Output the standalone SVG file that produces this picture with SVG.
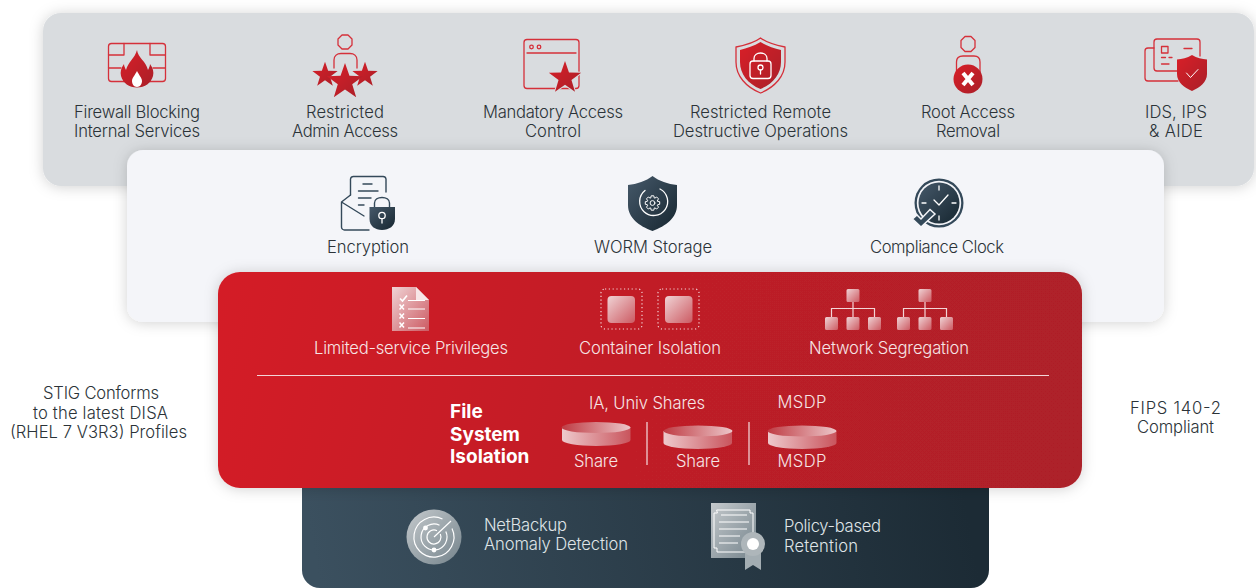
<svg xmlns="http://www.w3.org/2000/svg" xmlns:xlink="http://www.w3.org/1999/xlink" width="1256" height="588" viewBox="0 0 1256 588">
<style>
text{font-family:Inter,"Liberation Sans",sans-serif;font-weight:300;font-size:16.6px;text-anchor:middle;fill:#2b3338}
.w{fill:#f6e4e5}
.d{fill:#dfe4e7;text-anchor:start}
.b{font-weight:700;fill:#fff;text-anchor:start;font-size:19px}
.ol{fill:none;stroke:#d5303a;stroke-width:1.3;stroke-linejoin:round;stroke-linecap:round}
.dl{fill:none;stroke:#34495a;stroke-width:1.4;stroke-linejoin:round;stroke-linecap:round}
.wl{fill:none;stroke:#fff;stroke-width:1.3;stroke-linecap:round;stroke-linejoin:round}
.rf{fill:url(#red)}
.df{fill:url(#dark)}
.pk{fill:url(#pink)}
</style>
<defs>
<linearGradient id="red" x1="0" y1="0" x2="1" y2="1"><stop offset="0" stop-color="#d91f28"/><stop offset="1" stop-color="#a91f28"/></linearGradient>
<linearGradient id="redpanel" gradientUnits="userSpaceOnUse" x1="218" y1="272" x2="1082" y2="488"><stop offset="0" stop-color="#d41e27"/><stop offset="1" stop-color="#ac2029"/></linearGradient>
<linearGradient id="dark" x1="0" y1="0" x2="1" y2="1"><stop offset="0" stop-color="#46596a"/><stop offset="1" stop-color="#162630"/></linearGradient>
<linearGradient id="darkpanel" gradientUnits="userSpaceOnUse" x1="320" y1="588" x2="960" y2="470"><stop offset="0" stop-color="#3b505f"/><stop offset="1" stop-color="#1c2b35"/></linearGradient>
<linearGradient id="pink" x1="0" y1="0" x2="1" y2="1"><stop offset="0" stop-color="#f0d3d5"/><stop offset="1" stop-color="#cc5a62"/></linearGradient>
<linearGradient id="disc" x1="0" y1="0" x2="1" y2="0"><stop offset="0" stop-color="#eec9cc"/><stop offset="1" stop-color="#c9555d"/></linearGradient>
<linearGradient id="disctop" x1="0" y1="0" x2="1" y2="0"><stop offset="0" stop-color="#bf3b43"/><stop offset="1" stop-color="#ecc6c9"/></linearGradient>
<linearGradient id="grey" x1="0" y1="0" x2="1" y2="1"><stop offset="0" stop-color="#c4c9cc"/><stop offset="1" stop-color="#75848c"/></linearGradient>
<filter id="sh" x="-10%" y="-20%" width="120%" height="140%"><feDropShadow dx="0" dy="1" stdDeviation="7" flood-color="#000" flood-opacity="0.18"/></filter>
<path id="star" d="M0-1 .235-.324 .951-.309 .38.124 .588.809 0 .4 -.588.809 -.38.124 -.951-.309 -.235-.324Z"/>
<path id="sq" d="M1.500 0H11.500A1.500 1.500 0 0 1 13 1.500V11.500A1.500 1.500 0 0 1 11.500 13H1.500A1.500 1.500 0 0 1 0 11.500V1.500A1.500 1.500 0 0 1 1.500 0Z"/>
</defs>
<rect width="1256" height="588" fill="#fff"/>

<g id="panel-grey"><rect x="43" y="13" width="1211" height="173" rx="18" fill="#d9dcdf" filter="url(#sh)"/></g>
<g id="panel-white"><rect x="127" y="150" width="1037" height="172" rx="16" fill="#f4f5f9" filter="url(#sh)"/></g>
<g id="panel-dark"><rect x="302" y="470" width="687" height="118" rx="18" fill="url(#darkpanel)"/></g>
<g id="panel-red"><rect x="218" y="272" width="864" height="216" rx="22" fill="url(#redpanel)" filter="url(#sh)"/></g>

<g id="connectors"></g>

<g id="firewall">
<rect class="ol" x="108.500" y="43.500" width="57" height="38" rx="3"/>
<path class="ol" d="M108.500 55H124M124 43.500V55M150 55H165.500M150 43.500V55M108.500 68H121M153 68H165.500M124 68V81.500M150 68V81.500"/>
<path class="rf" d="M137 50C138 58 146 61 148 70C149 68 150 66 150 64C153 68 154 72 153 76C151 83 145 87.500 137 87.500C129 87.500 123 83 121 76C120 72 121 68 124 64C124 66 125 68 126 70C128 62 135 58 137 50Z"/>
<path d="M137 71C139 75 142 78 142 81C142 84 140 87 137 87C134 87 132 84 132 81C132 78 135 75 137 71Z" fill="#fff"/>
<text x="137" y="118" textLength="126">Firewall Blocking</text><text x="137" y="137" textLength="126">Internal Services</text>
</g>
<g id="restricted-admin">
<path class="ol" d="M342 35H348L352 39V45L348 49H342L338 45V39Z"/>
<path class="ol" d="M334 68V60C334 56 337 53.500 341 53.500H350C354 53.500 357 56 357 60V68"/>
<use href="#star" class="rf" transform="translate(325 75) scale(13.300)"/>
<use href="#star" class="rf" transform="translate(365 75) scale(13.300)"/>
<use href="#star" class="rf" transform="translate(345 82) scale(19)"/>
<text x="345" y="118" textLength="78">Restricted</text><text x="345" y="137" textLength="106">Admin Access</text>
</g>
<g id="mandatory-access">
<rect class="ol" x="524" y="39.500" width="55" height="49" rx="3"/>
<path class="ol" d="M527 53H576"/>
<circle class="ol" cx="531.500" cy="47" r="1.800"/><circle class="ol" cx="539" cy="47" r="1.800"/>
<use href="#star" fill="#d9dcdf" transform="translate(565 78) scale(20)"/>
<use href="#star" class="rf" transform="translate(565 78) scale(17)"/>
<text x="553" y="118" textLength="140">Mandatory Access</text><text x="553" y="137" textLength="56">Control</text>
</g>
<g id="restricted-remote">
<path class="ol" d="M760.500 38C767 43 775 45 785 47V62C785 76 775 87 760.500 93C746 87 736 76 736 62V47C746 45 754 43 760.500 38Z"/>
<path class="rf" d="M760.500 42C767 46 774 48 781 50V62C781 74 773 84 760.500 89C748 84 740 74 740 62V50C747 48 754 46 760.500 42Z"/>
<rect class="wl" x="750" y="61" width="21" height="17.500" rx="3"/>
<path class="wl" d="M754 61V58.500C754 55 757 53 760.500 53C764 53 767 55 767 58.500V61"/>
<circle class="wl" cx="760.500" cy="67.500" r="2.500"/><path class="wl" d="M760.500 70V74"/>
<text x="760.500" y="118" textLength="141">Restricted Remote</text><text x="760.500" y="137" textLength="175">Destructive Operations</text>
</g>
<g id="root-access">
<path class="ol" d="M965 36.500H971L975 40.500V47.500L971 51.500H965L961 47.500V40.500Z"/>
<path class="ol" d="M956.500 72V62C956.500 58 959 56 963 56H974C978 56 980 58 980 62V72"/>
<circle class="rf" cx="968" cy="79" r="14.500"/>
<path d="M963 73 973 85M973 73 963 85" stroke="#fff" stroke-width="4" fill="none"/>
<text x="968" y="118" textLength="94">Root Access</text><text x="968" y="137" textLength="64">Removal</text>
</g>
<g id="ids-ips">
<path class="ol" d="M1154 48H1148A3 3 0 0 0 1145 51V78A3 3 0 0 0 1148 81H1178"/>
<path class="ol" d="M1178 71H1157A3 3 0 0 1 1154 68V42A3 3 0 0 1 1157 39H1197A3 3 0 0 1 1200 42V56"/>
<rect class="ol" x="1161.500" y="46.500" width="6.500" height="6.500"/>
<path class="ol" d="M1184 48.500H1192M1161.500 57.500H1165.500M1169 57.500H1172M1161.500 64H1169"/>
<path class="rf" d="M1192 55C1197 58 1202 59 1207 59.500V74C1207 82 1200 87.500 1192 91C1184 87.500 1177 82 1177 74V59.500C1182 59 1187 58 1192 55Z"/>
<path class="wl" d="M1186.500 73 1190.500 77.500 1198 69.500" style="stroke-width:1"/>
<text x="1176" y="118" textLength="62">IDS, IPS</text><text x="1176" y="137" textLength="54">&amp; AIDE</text>
</g>

<g id="encryption">
<path class="dl" d="M350.500 195V179A3 3 0 0 1 353.500 176.500H383A3 3 0 0 1 386 179V192"/>
<path class="dl" d="M350.500 195 341.500 202V227A3 3 0 0 0 344.500 230H369M341.500 202 364 216"/>
<path class="dl" d="M363 184H372M358.500 191H378M358.500 198H371M358.500 205H364"/>
<path class="dl" d="M374.500 207V203C374.500 199.500 378 197.500 382 197.500C386 197.500 389.500 199.500 389.500 203V207"/>
<path class="df" d="M369.500 207H395V219C395 226 389 230 382 230C375 230 369.500 226 369.500 219Z"/>
<circle class="wl" cx="382" cy="215.500" r="3.200"/><path class="wl" d="M382 219V223"/>
<text x="368" y="253" textLength="82">Encryption</text>
</g>
<g id="worm">
<path class="df" d="M652.500 176C659 181 668 184 677 185V205C677 218 666 226 652.500 231C639 226 628 218 628 205V185C637 184 646 181 652.500 176Z"/>
<path class="wl" d="M660 189A14 14 0 1 1 645 190.500"/>
<path class="wl" style="stroke-width:1" transform="translate(652.500 203)" d="M5 -1.800L7.200 -1.300 7.200 1.300 5 1.800 4.810 2.260 6.010 4.170 4.170 6.010 2.260 4.810 1.800 5 1.300 7.200 -1.300 7.200 -1.800 5 -2.260 4.810 -4.170 6.010 -6.010 4.170 -4.810 2.260 -5 1.800 -7.200 1.300 -7.200 -1.300 -5 -1.800 -4.810 -2.260 -6.010 -4.170 -4.170 -6.010 -2.260 -4.810 -1.800 -5 -1.300 -7.200 1.300 -7.200 1.800 -5 2.260 -4.810 4.170 -6.010 6.010 -4.170 4.810 -2.260Z"/>
<circle class="wl" cx="652.500" cy="203" r="2.400" style="stroke-width:1"/>
<text x="653" y="253" textLength="118">WORM Storage</text>
</g>
<g id="compliance-clock">
<circle cx="939" cy="203" r="24.500" fill="#34495a"/>
<circle cx="939" cy="203" r="22.200" fill="#f4f5f9"/>
<circle class="df" cx="939" cy="203" r="20.500"/>
<path class="wl" d="M939 186V190M939 216V220M922 203H926M952 203H956M934 200 939 205 948 195"/>
<path d="M912.500 219 917 215 921 219 930 209.500 935 214 921 227Z" fill="#34495a" stroke="#f4f5f9" stroke-width="1.500"/>
<text x="937" y="253" textLength="134">Compliance Clock</text>
</g>

<g id="limited-service">
<path class="pk" d="M392 287H416L429 300V331H392Z"/>
<path d="M416 287 429 300H416Z" fill="#f7e6e7"/>
<path d="M400 298.500 402.500 301 407 295.500" fill="none" stroke="#fff" stroke-width="1.700"/>
<path d="M399.500 304.500 404 309.500M404 304.500 399.500 309.500M399.500 313.500 404 318.500M404 313.500 399.500 318.500M399.500 322.500 404 327.500M404 322.500 399.500 327.500" stroke="#fff" stroke-width="1.500" fill="none"/>
<path d="M408 300.500H425M408 309H425M408 318.500H425M408 328H425" stroke="#fff" stroke-width="1"/>
<text class="w" x="411" y="354" textLength="194">Limited-service Privileges</text>
</g>
<g id="container-isolation">
<rect x="601" y="289" width="41" height="40" rx="4" fill="none" stroke="#f3d5d7" stroke-width="1.200" stroke-dasharray="1.200 2.600"/>
<rect x="658" y="289" width="41" height="40" rx="4" fill="none" stroke="#f3d5d7" stroke-width="1.200" stroke-dasharray="1.200 2.600"/>
<rect class="pk" x="607.500" y="296" width="27.500" height="27" rx="4"/>
<rect class="pk" x="665" y="296" width="27.500" height="27" rx="4"/>
<text class="w" x="650" y="354" textLength="142">Container Isolation</text>
</g>
<g id="network-segregation">
<path d="M853 302V308M831.500 317V308.500H874.500V317M853 308V317M925 302V308M903.500 317V308.500H946.500V317M925 308V317" fill="none" stroke="#f3d5d7" stroke-width="1.200"/>
<use href="#sq" class="pk" x="846.500" y="289"/>
<use href="#sq" class="pk" x="825" y="317"/><use href="#sq" class="pk" x="846.500" y="317"/><use href="#sq" class="pk" x="868" y="317"/>
<use href="#sq" class="pk" x="918.500" y="289"/>
<use href="#sq" class="pk" x="897" y="317"/><use href="#sq" class="pk" x="918.500" y="317"/><use href="#sq" class="pk" x="940" y="317"/>
<text class="w" x="889" y="354" textLength="160">Network Segregation</text>
</g>
<path id="divider" d="M257 375.500H1049" stroke="#f3d5d7" stroke-width="1"/>

<g id="file-system">
<text class="b" x="450" y="418">File</text>
<text class="b" x="450" y="441">System</text>
<text class="b" x="450" y="463">Isolation</text>
<text class="w" x="647" y="409" textLength="116">IA, Univ Shares</text>
<text class="w" x="802" y="408" textLength="49">MSDP</text>
<path d="M562 427V440A34 6 0 0 0 630.500 440V427Z" fill="url(#disc)"/><ellipse cx="596" cy="427.500" rx="34.500" ry="5.500" fill="url(#disctop)"/>
<path d="M663.500 431V443A34 6 0 0 0 732 443V431Z" fill="url(#disc)"/><ellipse cx="698" cy="431" rx="34.500" ry="5.500" fill="url(#disctop)"/>
<path d="M768 431V443A34 6 0 0 0 836.500 443V431Z" fill="url(#disc)"/><ellipse cx="802" cy="431" rx="34.500" ry="5.500" fill="url(#disctop)"/>
<path d="M647 422V465M749 422V465" stroke="#f0cfd1" stroke-width="1.300"/>
<text class="w" x="596" y="467" textLength="44">Share</text>
<text class="w" x="698" y="467" textLength="44">Share</text>
<text class="w" x="802" y="467" textLength="49">MSDP</text>
</g>

<g id="netbackup">
<circle cx="434" cy="537" r="27.500" fill="url(#grey)"/>
<path d="M451 521 434 537M452 528.500A20 20 0 1 1 442.500 519M445.800 531.500A13 13 0 1 1 439.500 525.200M440.300 534A7 7 0 1 1 437 530.700" fill="none" stroke="#fff" stroke-width="1.200"/>
<circle cx="425.500" cy="528" r="2.400" fill="#fff"/><circle cx="434" cy="550" r="2.400" fill="#fff"/>
<text class="d" x="484" y="531" textLength="83">NetBackup</text><text class="d" x="484" y="550" textLength="144">Anomaly Detection</text>
</g>
<g id="policy-retention">
<rect x="711" y="503" width="45" height="55" fill="url(#grey)"/>
<path class="wl" d="M717 510H750V513H753V548H750V552H717V548H714V513H717Z" style="stroke-width:1"/>
<path d="M721 515H747M719 522H749M719 529H747M719 536H740M719 543H738" stroke="#fff" stroke-width="1"/>
<path d="M745 550V570L753 565 761 570V550Z" fill="#a3adb2"/>
<circle cx="753" cy="544" r="12" fill="#aeb6ba"/><circle cx="753" cy="544" r="6" fill="#fff"/>
<text class="d" x="784" y="532" textLength="97">Policy-based</text><text class="d" x="784" y="552" textLength="74">Retention</text>
</g>

<g id="side-notes">
<text x="101" y="399" textLength="116">STIG Conforms</text><text x="100.500" y="419" textLength="135">to the latest DISA</text><text x="98.500" y="438" textLength="177">(RHEL 7 V3R3) Profiles</text>
<text x="1175.500" y="414" textLength="91">FIPS 140-2</text><text x="1175.500" y="433" textLength="77">Compliant</text>
</g>
</svg>
